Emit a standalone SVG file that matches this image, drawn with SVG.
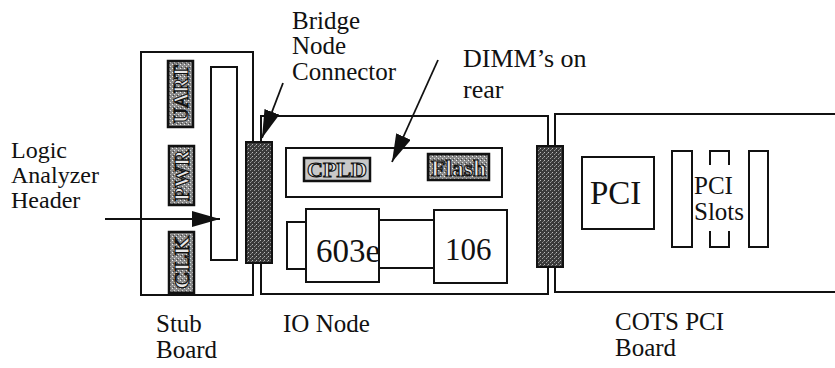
<svg xmlns="http://www.w3.org/2000/svg" width="835" height="368" viewBox="0 0 835 368">
<style>
.t{font-family:"Liberation Serif","Times New Roman",serif;fill:#111;}
.box{fill:none;stroke:#111;stroke-width:2;}
.wbox{fill:#fff;stroke:#111;stroke-width:2;}
.conn{fill:url(#stipDark);stroke:#111;stroke-width:2;}
.lab{fill:url(#stipLight);stroke:#111;stroke-width:2.5;}
.bt{font-family:"Liberation Serif","Times New Roman",serif;font-weight:bold;fill:#e8e8e8;stroke:#111;stroke-width:1.1;}
.ln{stroke:#111;stroke-width:1.8;fill:none;}
</style>
<defs>
<pattern id="stipDark" width="4" height="4" patternUnits="userSpaceOnUse">
<rect width="4" height="4" fill="#3a3a3a"/>
<rect x="0" y="0" width="1" height="1" fill="#bbb"/>
<rect x="2" y="2" width="1" height="1" fill="#999"/>
<rect x="3" y="1" width="1" height="1" fill="#777"/>
</pattern>
<pattern id="stipLight" width="4" height="4" patternUnits="userSpaceOnUse">
<rect width="4" height="4" fill="#8a8a8a"/>
<rect x="0" y="0" width="1" height="1" fill="#eee"/>
<rect x="2" y="2" width="1" height="1" fill="#ddd"/>
<rect x="1" y="3" width="1" height="1" fill="#444"/>
</pattern>
<marker id="ah" viewBox="0 0 28 16" refX="28" refY="8" markerWidth="28" markerHeight="16" markerUnits="userSpaceOnUse" orient="auto">
<path d="M0,0 L28,8 L0,16 Z" fill="#111"/>
</marker>
</defs>

<g id="stub-board">
<rect class="box" x="141" y="52" width="112" height="243"/>
<rect class="box" x="211" y="67" width="26" height="193"/>
<g id="uart">
<rect class="lab" x="168" y="61" width="25" height="66"/>
<text class="bt" transform="translate(188,123) rotate(-90)" font-size="21" textLength="58" lengthAdjust="spacingAndGlyphs">UART</text>
</g>
<g id="pwr">
<rect class="lab" x="169" y="146" width="25" height="59"/>
<text class="bt" transform="translate(189,201) rotate(-90)" font-size="21" textLength="51" lengthAdjust="spacingAndGlyphs">PWR</text>
</g>
<g id="clk">
<rect class="lab" x="169" y="232" width="25" height="61"/>
<text class="bt" transform="translate(189,289) rotate(-90)" font-size="21" textLength="53" lengthAdjust="spacingAndGlyphs">CLK</text>
</g>
</g>

<g id="io-node">
<rect class="box" x="261" y="116" width="287" height="178"/>
<rect class="box" x="286" y="148" width="216" height="49"/>
<g id="cpld">
<rect class="lab" x="304" y="158" width="66" height="23" style="fill:#c8c8c8"/>
<text class="bt" x="307" y="177" font-size="21" textLength="60" lengthAdjust="spacingAndGlyphs">CPLD</text>
</g>
<g id="flash">
<rect class="lab" x="428" y="154" width="61" height="26"/>
<text class="bt" x="431" y="176" font-size="23" textLength="55" lengthAdjust="spacingAndGlyphs">Flash</text>
</g>
<rect class="box" x="287" y="222" width="20" height="47"/>
<rect class="box" x="379" y="220" width="55" height="48"/>
<g id="cpu-603e">
<rect class="wbox" x="306" y="209" width="73" height="73"/>
<text class="t" x="316" y="262" font-size="33">603e</text>
</g>
<g id="chip-106">
<rect class="wbox" x="434" y="210" width="73" height="73"/>
<text class="t" x="445" y="260" font-size="31">106</text>
</g>
</g>

<g id="cots-pci-board">
<path class="box" d="M836,114 H555 V292 H836"/>
<g id="pci-chip">
<rect class="box" x="582" y="157" width="72" height="72"/>
<text class="t" x="590" y="204" font-size="33">PCI</text>
</g>
<g id="pci-slots">
<rect class="box" x="672" y="151" width="20" height="96"/>
<path class="box" d="M710,165 V151 H729 V165 M710,231 V247 H729 V231"/>
<rect class="box" x="749" y="151" width="19" height="96"/>
<text class="t" x="694" y="194" font-size="25">PCI</text>
<text class="t" x="694" y="220" font-size="25">Slots</text>
</g>
</g>

<g id="bridge-connector">
<rect class="conn" x="246" y="142" width="26" height="121"/>
</g>
<g id="pci-connector">
<rect class="conn" x="537" y="146" width="26" height="121"/>
</g>

<g id="connectors">
<line class="ln" x1="105" y1="219" x2="220" y2="219" marker-end="url(#ah)"/>
<line class="ln" x1="283" y1="83" x2="262" y2="138" marker-end="url(#ah)"/>
<line class="ln" x1="438" y1="60" x2="392" y2="162" marker-end="url(#ah)"/>
</g>

<g id="labels">
<text class="t" font-size="24"><tspan x="11" y="158">Logic</tspan><tspan x="11" y="183">Analyzer</tspan><tspan x="11" y="208">Header</tspan></text>
<text class="t" font-size="25"><tspan x="292" y="29">Bridge</tspan><tspan x="292" y="54">Node</tspan><tspan x="292" y="80">Connector</tspan></text>
<text class="t" font-size="26"><tspan x="463" y="67">DIMM’s on</tspan><tspan x="463" y="98">rear</tspan></text>
<text class="t" font-size="25"><tspan x="156" y="332">Stub</tspan><tspan x="156" y="358">Board</tspan></text>
<text class="t" font-size="25" x="283" y="332">IO Node</text>
<text class="t" font-size="25"><tspan x="615" y="330">COTS PCI</tspan><tspan x="615" y="356">Board</tspan></text>
</g>
</svg>
